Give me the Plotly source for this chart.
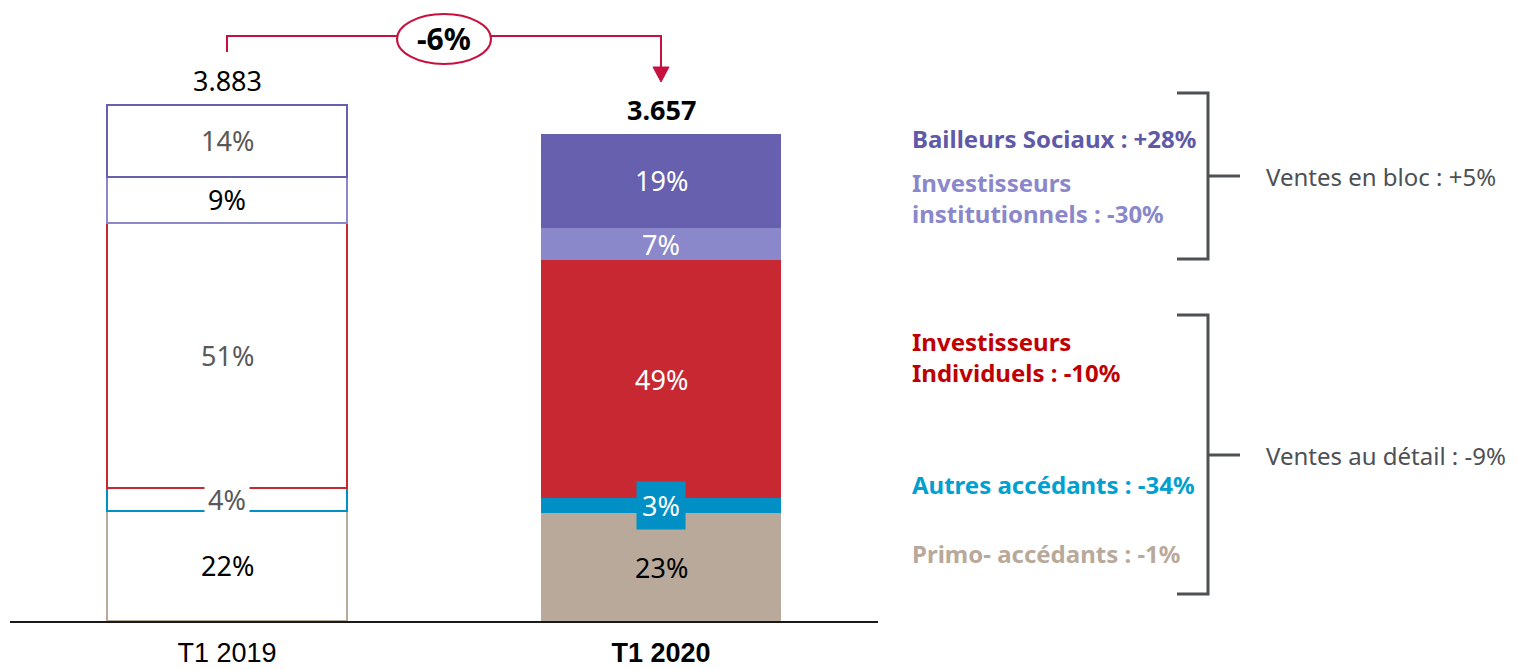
import plotly.graph_objects as go

# data
periods = ["T1 2019", "T1 2020"]
totals = [3883, 3657]
segments = ["Primo- accédants", "Autres accédants", "Investisseurs Individuels",
            "Investisseurs institutionnels", "Bailleurs Sociaux"]
# segment volumes and the printed shares
vol_2019 = [830, 169, 1999, 346, 540]
vol_2020 = [810, 113, 1793, 243, 710]
share_2019 = [22, 4, 51, 9, 14]
share_2020 = [23, 3, 49, 7, 19]
seg_colors = ["#B8A99A", "#0090C5", "#C72832", "#8A87CA", "#6760AE"]
label_colors_2019 = ["#000000", "#595959", "#595959", "#000000", "#595959"]
label_colors_2020 = ["#000000", "#FFFFFF", "#FFFFFF", "#FFFFFF", "#FFFFFF"]
evolution = "-6%"
side_labels = ["Bailleurs Sociaux : +28%", "Investisseurs<br>institutionnels : -30%",
               "Investisseurs<br>Individuels : -10%", "Autres accédants : -34%",
               "Primo- accédants : -1%"]
side_colors = ["#5F5AA8", "#8A87CA", "#C00000", "#00A0D0", "#B8A99A"]
group_labels = ["Ventes en bloc : +5%", "Ventes au détail : -9%"]

FONT = "Noto Sans, Roboto, sans-serif"
TICKFONT = "Liberation Sans, Arial, sans-serif"
GREY = "#4D5055"
RED = "#C8103E"

# page body has an 8px margin; work in screenshot pixels and shift
OFF = 8
W, H = 1517 - OFF, 670 - OFF
# plot area in screenshot pixels: x 10..878, y 40..621
L, R, T, B = 10, 878, 40, 621


def px(x):
    return (x - L) / (R - L)


def py(y):
    return (B - y) / (B - T)


fig = go.Figure()
for i, name in enumerate(segments):
    fig.add_trace(go.Bar(
        x=periods,
        y=[vol_2019[i], vol_2020[i]],
        name=name,
        width=0.555,
        marker=dict(color=["white", seg_colors[i]],
                    line=dict(color=seg_colors[i], width=[2, 0])),
        hoverinfo="skip",
    ))

annotations = []
# segment labels
for j, (vals, shares, lcols) in enumerate([(vol_2019, share_2019, label_colors_2019),
                                            (vol_2020, share_2020, label_colors_2020)]):
    base = 0
    for i, v in enumerate(vals):
        bg = None
        if i == 1:
            bg = "white" if j == 0 else seg_colors[1]
        annotations.append(dict(
            x=periods[j], y=base + v / 2, xref="x", yref="y",
            xanchor="center", yanchor="middle",
            text=f"{shares[i]}%", showarrow=False,
            font=dict(family=FONT, size=27, color=lcols[i]),
            bgcolor=bg, borderpad=5 if j == 1 else 3,
        ))
        base += v

# totals
annotations.append(dict(x=periods[0], y=sum(vol_2019), xref="x", yref="y", yanchor="bottom",
                        yshift=4, text=f"{totals[0] / 1000:.3f}", showarrow=False,
                        font=dict(family=FONT, size=27, color="#000000")))
annotations.append(dict(x=periods[1], y=sum(vol_2020), xref="x", yref="y", yanchor="bottom",
                        yshift=4, text=f"<b>{totals[1] / 1000:.3f}</b>", showarrow=False,
                        font=dict(family=FONT, size=27, color="#000000")))

# evolution bubble
annotations.append(dict(x=px(444), y=py(39), xref="paper", yref="paper",
                        xanchor="center", yanchor="middle",
                        text=f"<b>{evolution}</b>", showarrow=False,
                        font=dict(family=FONT, size=30, color="#000000")))

# right side labels
side_y = [138, 198, 357, 484, 553]
for t, c, y in zip(side_labels, side_colors, side_y):
    annotations.append(dict(x=px(910), y=py(y), xref="paper", yref="paper",
                            xanchor="left", yanchor="middle", align="left",
                            text=f"<b>{t}</b>", showarrow=False,
                            font=dict(family=FONT, size=24, color=c)))
for t, y in zip(group_labels, [176, 455]):
    annotations.append(dict(x=px(1264), y=py(y), xref="paper", yref="paper",
                            xanchor="left", yanchor="middle", text=t, showarrow=False,
                            font=dict(family=FONT, size=24, color=GREY)))

shapes = []
# arrow 2019 -> 2020
shapes.append(dict(type="path", xref="paper", yref="paper",
                   path=f"M {px(227)} {py(52)} L {px(227)} {py(36)} L {px(661)} {py(36)} L {px(661)} {py(68)}",
                   line=dict(color=RED, width=2)))
shapes.append(dict(type="path", xref="paper", yref="paper",
                   path=f"M {px(653)} {py(67)} L {px(669)} {py(67)} L {px(661)} {py(82)} Z",
                   fillcolor=RED, line=dict(color=RED, width=1)))
shapes.append(dict(type="circle", xref="paper", yref="paper",
                   x0=px(397), x1=px(491), y0=py(64), y1=py(14),
                   fillcolor="white", line=dict(color=RED, width=2)))
# brackets
for top, bot, mid in [(93, 259, 176), (315, 594, 455)]:
    shapes.append(dict(type="path", xref="paper", yref="paper",
                       path=f"M {px(1177)} {py(top)} L {px(1208)} {py(top)} L {px(1208)} {py(bot)} L {px(1177)} {py(bot)}",
                       line=dict(color=GREY, width=3)))
    shapes.append(dict(type="line", xref="paper", yref="paper",
                       x0=px(1208), x1=px(1240), y0=py(mid), y1=py(mid),
                       line=dict(color=GREY, width=3)))

fig.update_layout(
    barmode="stack",
    width=W, height=H,
    margin=dict(l=L - OFF, r=1517 - R, t=T - OFF, b=670 - B, autoexpand=False),
    paper_bgcolor="white", plot_bgcolor="white",
    showlegend=False,
    annotations=annotations,
    shapes=shapes,
    xaxis=dict(
        range=[-0.5, 1.5],
        tickvals=periods,
        ticktext=[periods[0], f"<b>{periods[1]}</b>"],
        tickfont=dict(family=TICKFONT, size=27, color="#000000"),
        showline=True, linecolor="#1A1A1A", linewidth=2,
        ticks="", ticklabelstandoff=7, automargin=False,
        showgrid=False, zeroline=False, fixedrange=True,
    ),
    yaxis=dict(
        range=[0, (B - T) * sum(vol_2019) / (B - 105)],
        visible=False, showgrid=False, zeroline=False, fixedrange=True,
        automargin=False,
    ),
)

fig.write_html("out.html")
